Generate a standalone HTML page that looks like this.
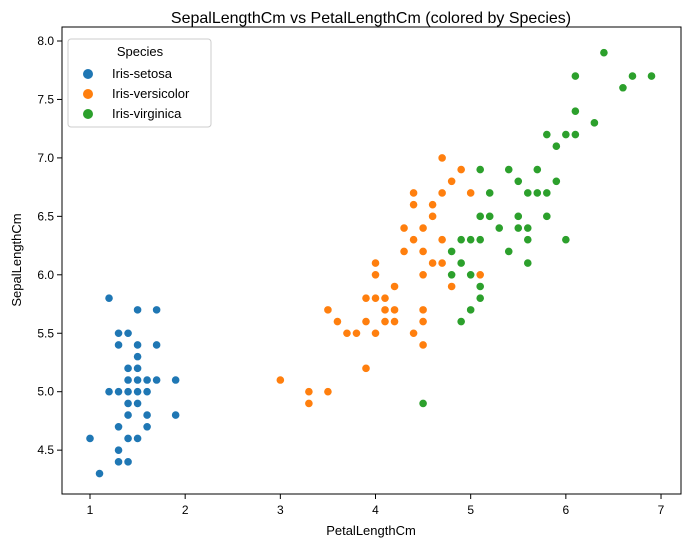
<!DOCTYPE html>
<html><head><meta charset="utf-8">
<style>
html,body{margin:0;padding:0;background:#fff;}
svg{display:block;font-family:"Liberation Sans","DejaVu Sans",sans-serif;}
</style></head>
<body>
<svg id="chart" width="691" height="547" viewBox="0 0 691 547">
<text x="371" y="23" text-anchor="middle" font-size="16" fill="#000">SepalLengthCm vs PetalLengthCm (colored by Species)</text>
<rect x="62" y="27" width="619" height="467" fill="none" stroke="#000" stroke-width="1"/>
<g id="xticks"></g>
<g id="yticks"></g>
<g id="points"></g>
<text x="371" y="535" text-anchor="middle" font-size="13">PetalLengthCm</text>
<text x="21" y="260" text-anchor="middle" font-size="13" transform="rotate(-90 21 260)">SepalLengthCm</text>
<g>
<rect x="68" y="39" width="143" height="88" rx="3" fill="#fff" fill-opacity="0.8" stroke="#ccc"/>
<text x="140" y="56" text-anchor="middle" font-size="13">Species</text>
<circle cx="88" cy="74" r="5" fill="#1f77b4"/>
<text x="112" y="78" font-size="13">Iris-setosa</text>
<circle cx="88" cy="94" r="5" fill="#ff7f0e"/>
<text x="112" y="98" font-size="13">Iris-versicolor</text>
<circle cx="88" cy="114" r="5" fill="#2ca02c"/>
<text x="112" y="118" font-size="13">Iris-virginica</text>
</g>
</svg>
<script>
const xTickValues=[1,2,3,4,5,6,7];
const yTickValues=[4.5,5.0,5.5,6.0,6.5,7.0,7.5,8.0];
const setosaPetal=[1.4,1.4,1.3,1.5,1.4,1.7,1.4,1.5,1.4,1.5,1.5,1.6,1.4,1.1,1.2,1.5,1.3,1.4,1.7,1.5,1.7,1.5,1.0,1.7,1.9,1.6,1.6,1.5,1.4,1.6,1.6,1.5,1.5,1.4,1.5,1.2,1.3,1.5,1.3,1.5,1.3,1.3,1.3,1.6,1.9,1.4,1.6,1.4,1.5,1.4];
const setosaSepal=[5.1,4.9,4.7,4.6,5.0,5.4,4.6,5.0,4.4,4.9,5.4,4.8,4.8,4.3,5.8,5.7,5.4,5.1,5.7,5.1,5.4,5.1,4.6,5.1,4.8,5.0,5.0,5.2,5.2,4.7,4.8,5.4,5.2,5.5,4.9,5.0,5.5,4.9,4.4,5.1,5.0,4.5,4.4,5.0,5.1,4.8,5.1,4.6,5.3,5.0];
const versicolorPetal=[4.7,4.5,4.9,4.0,4.6,4.5,4.7,3.3,4.6,3.9,3.5,4.2,4.0,4.7,3.6,4.4,4.5,4.1,4.5,3.9,4.8,4.0,4.9,4.7,4.3,4.4,4.8,5.0,4.5,3.5,3.8,3.7,3.9,5.1,4.5,4.5,4.7,4.4,4.1,4.0,4.4,4.6,4.0,3.3,4.2,4.2,4.2,4.3,3.0,4.1];
const versicolorSepal=[7.0,6.4,6.9,5.5,6.5,5.7,6.3,4.9,6.6,5.2,5.0,5.9,6.0,6.1,5.6,6.7,5.6,5.8,6.2,5.6,5.9,6.1,6.3,6.1,6.4,6.6,6.8,6.7,6.0,5.7,5.5,5.5,5.8,6.0,5.4,6.0,6.7,6.3,5.6,5.5,5.5,6.1,5.8,5.0,5.6,5.7,5.7,6.2,5.1,5.7];
const virginicaPetal=[6.0,5.1,5.9,5.6,5.8,6.6,4.5,6.3,5.8,6.1,5.1,5.3,5.5,5.0,5.1,5.3,5.5,6.7,6.9,5.0,5.7,4.9,6.7,4.9,5.7,6.0,4.8,4.9,5.6,5.8,6.1,6.4,5.6,5.1,5.6,6.1,5.6,5.5,4.8,5.4,5.6,5.1,5.1,5.9,5.7,5.2,5.0,5.2,5.4,5.1];
const virginicaSepal=[6.3,5.8,7.1,6.3,6.5,7.6,4.9,7.3,6.7,7.2,6.5,6.4,6.8,5.7,5.8,6.4,6.5,7.7,7.7,6.0,6.9,5.6,7.7,6.3,6.7,7.2,6.2,6.1,6.4,7.2,7.4,7.9,6.4,6.3,6.1,7.7,6.3,6.4,6.0,6.9,6.7,6.9,5.8,6.8,6.7,6.7,6.3,6.5,6.2,5.9];

const NS="http://www.w3.org/2000/svg";
function xs(v){return 90+(v-1)*95.17;}
function ys(v){return 41+(8-v)*116.9;}
function mk(tag,attrs,parent){const e=document.createElementNS(NS,tag);for(const k in attrs)e.setAttribute(k,attrs[k]);parent.appendChild(e);return e;}
const gx=document.getElementById('xticks'),gy=document.getElementById('yticks'),gp=document.getElementById('points');
xTickValues.forEach(v=>{
  const l=mk('line',{x1:xs(v),x2:xs(v),y1:494,y2:499,stroke:'#000'},gx);
  
  
  const t=mk('text',{x:xs(v),y:514,'text-anchor':'middle','font-size':12},gx);
  t.textContent=String(v);
  
  
});
yTickValues.forEach(v=>{
  const l=mk('line',{x1:57,x2:62,y1:ys(v),y2:ys(v),stroke:'#000'},gy);
  
  
  const t=mk('text',{x:54,y:ys(v)+4,'text-anchor':'end','font-size':12},gy);
  t.textContent=v.toFixed(1);
  
  
});
function draw(px,py,color,name){
  px.forEach((p,i)=>{
    const c=mk('circle',{cx:xs(p),cy:ys(py[i]),r:4.2,fill:color,stroke:'#fff','stroke-width':0.8},gp);
    
    
  });
}
draw(setosaPetal,setosaSepal,'#1f77b4','point-setosa');
draw(versicolorPetal,versicolorSepal,'#ff7f0e','point-versicolor');
draw(virginicaPetal,virginicaSepal,'#2ca02c','point-virginica');
</script>
</body></html>
